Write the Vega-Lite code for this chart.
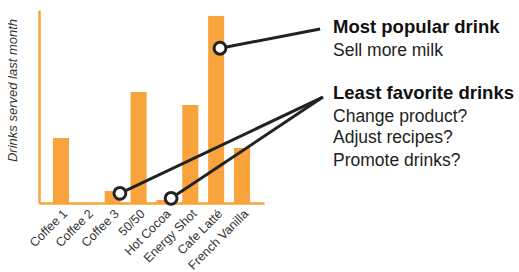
{
  "$schema": "https://vega.github.io/schema/vega-lite/v6.json",
  "width": 480,
  "height": 193,
  "autosize": "none",
  "padding": {"left": 39, "top": 10, "right": 0, "bottom": 69},
  "background": "white",
  "config": {"view": {"stroke": null}, "font": "Liberation Sans"},
  "datasets": {
    "drinks": [
      {"drink": "Coffee 1", "served": 33.7},
      {"drink": "Coffee 2", "served": 0},
      {"drink": "Coffee 3", "served": 6.2},
      {"drink": "50/50", "served": 57.5},
      {"drink": "Hot Cocoa", "served": 1.55},
      {"drink": "Energy Shot", "served": 50.8},
      {"drink": "Cafe Latté", "served": 96.9},
      {"drink": "French Vanilla", "served": 28.5}
    ],
    "callouts": [
      {"target": "Cafe Latté", "idx": 6.15, "val": 80.2},
      {"target": "Coffee 3", "idx": 2.28, "val": 5.0},
      {"target": "Hot Cocoa", "idx": 4.26, "val": 2.4}
    ],
    "leaders": [
      {"target": "Cafe Latté", "fromIdx": 6.15, "fromVal": 80.2, "toIdx": 10.02, "toVal": 90.2},
      {"target": "Coffee 3", "fromIdx": 2.28, "fromVal": 5.0, "toIdx": 10.13, "toVal": 54.9},
      {"target": "Hot Cocoa", "fromIdx": 4.26, "fromVal": 2.4, "toIdx": 10.13, "toVal": 54.9}
    ],
    "notes": [
      {"text": "Most popular drink", "role": "head", "idx": 10.52, "val": 87.9},
      {"text": "Sell more milk", "role": "body", "idx": 10.52, "val": 76.3},
      {"text": "Least favorite drinks", "role": "head", "idx": 10.52, "val": 53.7},
      {"text": "Change product?", "role": "body", "idx": 10.52, "val": 42.1},
      {"text": "Adjust recipes?", "role": "body", "idx": 10.52, "val": 30.9},
      {"text": "Promote drinks?", "role": "body", "idx": 10.52, "val": 19.3}
    ]
  },
  "layer": [
    {
      "data": {"name": "drinks"},
      "mark": {"type": "bar", "color": "#F8A33B"},
      "encoding": {
        "x": {
          "field": "drink",
          "type": "nominal",
          "sort": null,
          "scale": {"range": [0, 225], "paddingInner": 0.38, "paddingOuter": 0.54},
          "axis": {
            "title": null,
            "domainColor": "#F8A33B",
            "domainWidth": 2.6,
            "ticks": false,
            "labelAngle": -45,
            "labelFont": "Liberation Sans",
            "labelFontSize": 12.5,
            "labelColor": "#333333",
            "labelPadding": 4
          }
        },
        "y": {
          "field": "served",
          "type": "quantitative",
          "scale": {"domain": [0, 100]},
          "axis": {
            "title": "Drinks served last month",
            "labels": false,
            "ticks": false,
            "grid": false,
            "domainColor": "#F8A33B",
            "domainWidth": 2.5,
            "titleFont": "Liberation Sans",
            "titleFontStyle": "italic",
            "titleFontWeight": "normal",
            "titleFontSize": 13,
            "titleColor": "#333333",
            "titleX": -27,
            "titleY": 80,
            "titleAngle": -90,
            "titleAlign": "center",
            "titleBaseline": "middle"
          }
        }
      }
    },
    {
      "layer": [
        {
          "data": {"name": "leaders"},
          "mark": {"type": "rule", "stroke": "#222222", "strokeWidth": 3},
          "encoding": {
            "x": {"field": "fromIdx", "type": "quantitative", "scale": {"domain": [-0.8496, 17.712], "zero": false, "nice": false}, "axis": null},
            "x2": {"field": "toIdx"},
            "y": {"field": "fromVal", "type": "quantitative", "axis": null},
            "y2": {"field": "toVal"}
          }
        },
        {
          "data": {"name": "callouts"},
          "mark": {"type": "point", "shape": "circle", "filled": true, "fill": "white", "stroke": "#222222", "strokeWidth": 3, "size": 140, "opacity": 1},
          "encoding": {
            "x": {"field": "idx", "type": "quantitative", "scale": {"domain": [-0.8496, 17.712], "zero": false, "nice": false}, "axis": null},
            "y": {"field": "val", "type": "quantitative", "axis": null}
          }
        },
        {
          "data": {"name": "notes"},
          "transform": [{"filter": "datum.role === 'head'"}],
          "mark": {"type": "text", "align": "left", "baseline": "alphabetic", "font": "Liberation Sans", "fontWeight": "bold", "fontSize": 18.5, "color": "#111111"},
          "encoding": {
            "x": {"field": "idx", "type": "quantitative", "scale": {"domain": [-0.8496, 17.712], "zero": false, "nice": false}, "axis": null},
            "y": {"field": "val", "type": "quantitative", "axis": null},
            "text": {"field": "text"}
          }
        },
        {
          "data": {"name": "notes"},
          "transform": [{"filter": "datum.role === 'body'"}],
          "mark": {"type": "text", "align": "left", "baseline": "alphabetic", "font": "Liberation Sans", "fontWeight": "normal", "fontSize": 17.5, "color": "#222222"},
          "encoding": {
            "x": {"field": "idx", "type": "quantitative", "scale": {"domain": [-0.8496, 17.712], "zero": false, "nice": false}, "axis": null},
            "y": {"field": "val", "type": "quantitative", "axis": null},
            "text": {"field": "text"}
          }
        }
      ],
      "resolve": {"axis": {"y": "independent"}}
    }
  ],
  "resolve": {"scale": {"x": "independent"}, "axis": {"y": "independent"}}
}
